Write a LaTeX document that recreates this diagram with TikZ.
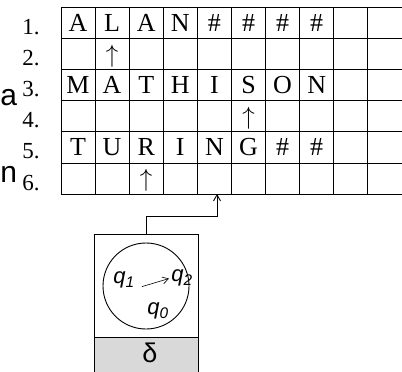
\documentclass[tikz,border=0pt]{standalone}
\usepackage{fontspec}
\setmainfont{Liberation Serif}
\setsansfont{Liberation Sans}
\usetikzlibrary{arrows.meta, positioning, calc}

\begin{document}
\begin{tikzpicture}[x=1pt, y=-1pt, >={Straight Barb[length=6pt, width=7pt]},
    line width=0.9pt,
    cell/.style={inner sep=0pt, font=\fontsize{26}{26}\selectfont},
    rlab/.style={anchor=east, inner sep=0pt, font=\fontsize{23}{23}\selectfont},
    slab/.style={inner sep=0pt, font=\sffamily\itshape\fontsize{22}{22}\selectfont},
    cutlab/.style={anchor=base west, inner sep=0pt, font=\sffamily\fontsize{30}{30}\selectfont},
  ]
    \useasboundingbox (0,0) rectangle (402,372);

    % tape
    \foreach \i in {0,...,6} {
      \draw (61,7+31.2*\i) -- (410,7+31.2*\i);
    }
    \foreach \j in {0,...,9} {
      \draw (61+34.1*\j,7) -- (61+34.1*\j,194);
    }
    \foreach \r/\w in {1/{A,L,A,N,\#,\#,\#,\#}, 3/{M,A,T,H,I,S,O,N}, 5/{T,U,R,I,N,G,\#,\#}} {
      \foreach \c [count=\k from 0] in \w {
        \node[cell] (t\r-\k) at (78+34.1*\k, 31.2*\r-8.6) {\c};
      }
    }
    \foreach \r/\k in {2/1, 4/5, 6/2} {
      \node[cell] (h\r) at (78+34.1*\k, 31.2*\r-6.6) {$\uparrow$};
    }
    \foreach \r in {1,...,6} {
      \node[rlab] (n\r) at (40, 31.2*\r-4.6) {\r.};
    }
    \node[cutlab] (la) at (0,105) {a};
    \node[cutlab] (ln) at (0,182) {n};

    % head with states
    \node[draw, minimum width=104pt, minimum height=103pt, inner sep=0pt] (ctrl) at (146,285.5) {};
    \node[draw, fill=gray!30, minimum width=104pt, minimum height=45pt, inner sep=0pt,
      anchor=north] (delta) at (ctrl.south) {};
    \node[inner sep=0pt, font=\sffamily\fontsize{27}{27}\selectfont] (dl) at (150,353) {δ};
    \node[draw, circle, minimum size=86pt, inner sep=0pt] (states) at (146,286) {};
    \node[slab] (q1) at (124,280) {q\textsubscript{1}};
    \node[slab] (q2) at (182,278) {q\textsubscript{2}};
    \node[slab] (q0) at (158,311) {q\textsubscript{0}};
    \draw[->, line width=0.6pt, shorten <=7pt, shorten >=2pt] (q1.south east) -- (q2.west);

    \coordinate (tapein) at (217,194);
    \draw[->] (ctrl.north) -- ++(0,-17) -| (tapein);
  \end{tikzpicture}
\end{document}
